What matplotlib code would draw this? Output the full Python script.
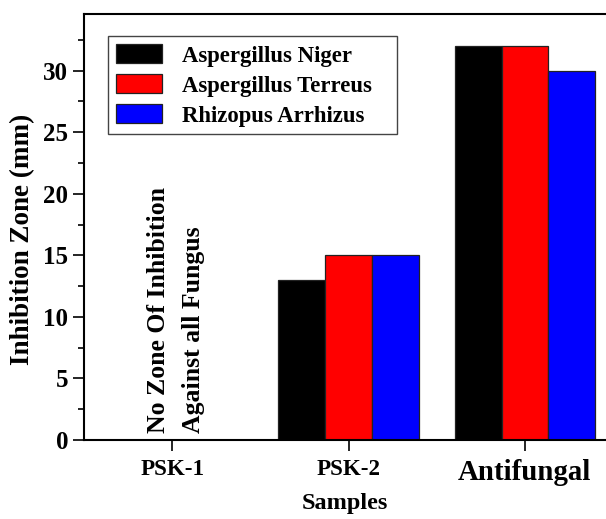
import matplotlib.pyplot as plt
import numpy as np

samples = ['PSK-1', 'PSK-2', 'Antifungal']
series_names = ['Aspergillus Niger', 'Aspergillus Terreus', 'Rhizopus Arrhizus']
niger = [0, 13, 32]
terreus = [0, 15, 32]
rhizopus = [0, 15, 30]
colors = ['#000000', '#ff0000', '#0000ff']

plt.rcParams['font.family'] = ['Liberation Serif', 'DejaVu Serif']
plt.rcParams['font.weight'] = 'bold'

fig = plt.figure(figsize=(6.06, 5.19), dpi=100)
ax = fig.add_axes([0.1386, 0.1522, 0.8614, 0.8208])

x = np.arange(len(samples))
w = 0.265
for i, (vals, name, c) in enumerate(zip([niger, terreus, rhizopus], series_names, colors)):
    ax.bar(x + (i - 1) * w, vals, width=w, color=c, edgecolor='#222222',
           linewidth=0.9, label=name)

# note for the empty PSK-1 group
ax.text(-0.075, 0.55, 'No Zone Of Inhibition', rotation=90, ha='center', va='bottom',
        fontsize=18.5, fontweight='bold')
ax.text(0.12, 0.55, 'Against all Fungus', rotation=90, ha='center', va='bottom',
        fontsize=18.5, fontweight='bold')

ax.set_xlim(-0.5, 2.46)
ax.set_ylim(0, 34.6)
ax.set_xticks(x)
ax.set_xticklabels(samples, fontsize=16.6, fontweight='bold')
ax.get_xticklabels()[2].set_fontsize(20.8)
ax.set_yticks([0, 5, 10, 15, 20, 25, 30])
ax.set_yticks(np.arange(2.5, 34, 5), minor=True)
ax.tick_params(axis='y', labelsize=18, length=8, width=1.2, direction='out')
ax.tick_params(axis='y', which='minor', length=4, width=1.2)
ax.tick_params(axis='x', length=8, width=1.2, direction='out', pad=6)
for lab in ax.get_yticklabels():
    lab.set_fontweight('bold')

ax.set_ylabel('Inhibition Zone (mm)', fontsize=19.5, fontweight='bold')
ax.yaxis.set_label_coords(-0.094, 0.472)
ax.set_xlabel('Samples', fontsize=17.5, fontweight='bold', labelpad=5)

ax.spines['right'].set_visible(False)
for s in ['left', 'bottom', 'top']:
    ax.spines[s].set_linewidth(1.5)

leg = ax.legend(loc='upper left', bbox_to_anchor=(0.046, 0.0, 0.554, 0.948),
                mode='expand', fontsize=16.4,
                fancybox=False, edgecolor='#444444', framealpha=1,
                handlelength=2.0, handleheight=0.92, handletextpad=0.9,
                borderaxespad=0, labelspacing=0.33, borderpad=0.35)
leg.get_frame().set_linewidth(1.0)

fig.savefig('out.png', dpi=100)
